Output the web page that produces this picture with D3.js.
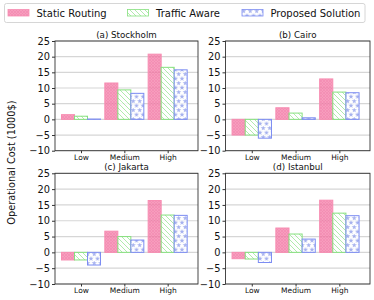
<!DOCTYPE html>
<html><head><meta charset="utf-8">
<script src="https://cdn.jsdelivr.net/npm/d3@7"></script>
<style>body{margin:0;background:#fff}svg{display:block}text{font-family:"DejaVu Sans",sans-serif}</style>
</head><body><div id="chart"></div>
<script>
const titles = ["(a) Stockholm", "(b) Cairo", "(c) Jakarta", "(d) Istanbul"];
const categories = ["Low", "Medium", "High"];
const seriesNames = ["Static Routing", "Traffic Aware", "Proposed Solution"];
const staticRouting = [[1.5, 11.6, 20.8], [-5.0, 3.7, 12.9], [-2.4, 6.7, 16.4], [-2.0, 7.7, 16.5]];
const trafficAware  = [[1.0, 9.4, 16.6], [-5.0, 2.0, 8.7], [-2.4, 5.0, 11.8], [-2.1, 5.8, 12.4]];
const proposed      = [[0.1, 8.3, 15.8], [-6.0, 0.5, 8.5], [-4.0, 3.9, 11.7], [-3.2, 4.2, 11.6]];
const yTicks = [-10, -5, 0, 5, 10, 15, 20, 25];
const yLabel = "Operational Cost (1000$)";

const W = 374, H = 300;
const svg = d3.select("#chart").append("svg").attr("width", W).attr("height", H);
const defs = svg.append("defs");

// patterns
const p0 = defs.append("pattern").attr("id", "pat0").attr("patternUnits", "userSpaceOnUse")
  .attr("width", 3).attr("height", 3);
p0.append("rect").attr("width", 3).attr("height", 3).attr("fill", "#f584ad");
p0.append("path").attr("d", "M0,0L3,3M3,0L0,3").attr("stroke", "#ef6d9d").attr("stroke-width", 0.7);

const p1 = defs.append("pattern").attr("id", "pat1").attr("patternUnits", "userSpaceOnUse")
  .attr("width", 5).attr("height", 5);
p1.append("rect").attr("width", 5).attr("height", 5).attr("fill", "#fff");
p1.append("path").attr("d", "M-1,-1L6,6M-1,4L1,6M4,-1L6,1").attr("stroke", "#93e38c").attr("stroke-width", 0.9);

const p2 = defs.append("pattern").attr("id", "pat2").attr("patternUnits", "userSpaceOnUse")
  .attr("width", 6.5).attr("height", 9);
p2.append("rect").attr("width", 6.5).attr("height", 9).attr("fill", "#fff");
const star = d3.symbol().type(d3.symbolStar).size(8.5)();
[[3.2, 2.2], [0, 6.7], [6.5, 6.7]].forEach(([x, y]) =>
  p2.append("path").attr("d", star).attr("transform", `translate(${x},${y})`).attr("fill", "#8f9dea"));

const fills = ["url(#pat0)", "url(#pat1)", "url(#pat2)"];
const edges = ["#f78db2", "#86e07e", "#7c8cf2"];
const allData = [staticRouting, trafficAware, proposed];

const cols = [[55, 198], [225.5, 370]];
const rows = [[41, 150.7], [173.3, 284]];

titles.forEach((t, i) => {
  const [x0, x1] = cols[i % 2], [y0, y1] = rows[Math.floor(i / 2)];
  const g = svg.append("g");
  const x = d3.scaleLinear().domain([-0.6, 2.7]).range([x0, x1]);
  const y = d3.scaleLinear().domain([-10, 25]).range([y1, y0]);
  const bw = 0.3;
  // grid
  g.selectAll(".grid").data(yTicks).enter().append("line")
    .attr("x1", x0).attr("x2", x1).attr("y1", d => y(d)).attr("y2", d => y(d))
    .attr("stroke", "#d6d6d6").attr("stroke-width", 1.2);
  // bars
  allData.forEach((ser, s) => {
    g.selectAll(".b" + s).data(ser[i]).enter().append("rect")
      .attr("x", (d, c) => x(c + (s - 1) * bw - bw / 2))
      .attr("width", x(bw) - x(0))
      .attr("y", d => y(Math.max(0, d)))
      .attr("height", d => Math.abs(y(d) - y(0)))
      .attr("fill", fills[s]).attr("fill-opacity", 0.8)
      .attr("stroke", edges[s]).attr("stroke-width", 1);
  });
  // frame
  g.append("rect").attr("x", x0).attr("y", y0).attr("width", x1 - x0).attr("height", y1 - y0)
    .attr("fill", "none").attr("stroke", "#333").attr("stroke-width", 0.9);
  // y axis
  const ya = g.append("g").attr("transform", `translate(${x0},0)`)
    .call(d3.axisLeft(y).tickValues(yTicks).tickSize(3).tickPadding(2).tickFormat(d => d < 0 ? "\u2212" + Math.abs(d) : d));
  ya.select(".domain").remove();
  ya.selectAll("line").attr("stroke", "#333");
  ya.selectAll("text").attr("font-size", 9.8).attr("fill", "#111").attr("font-family", "DejaVu Sans");
  // x axis
  const xa = g.append("g").attr("transform", `translate(0,${y1})`)
    .call(d3.axisBottom(x).tickValues([0, 1, 2]).tickSize(2.5).tickPadding(1.5).tickFormat((d, k) => categories[k]));
  xa.select(".domain").remove();
  xa.selectAll("line").attr("stroke", "#333");
  xa.selectAll("text").attr("font-size", 7.5).attr("fill", "#111").attr("font-family", "DejaVu Sans");
  // title
  g.append("text").attr("x", (x0 + x1) / 2).attr("y", y0 - 3).attr("text-anchor", "middle")
    .attr("font-size", 8.7).attr("fill", "#111").text(t);
});

// y label
svg.append("text").attr("transform", `translate(15,162.5) rotate(-90)`).attr("text-anchor", "middle")
  .attr("font-size", 9.8).attr("fill", "#111").text(yLabel);

// legend
const lg = svg.append("g");
lg.append("rect").attr("x", 4.5).attr("y", 3.5).attr("width", 360.5).attr("height", 19).attr("rx", 2)
  .attr("fill", "#fff").attr("stroke", "#ccc").attr("stroke-width", 0.8);
const lx = [8, 127.5, 242];
seriesNames.forEach((n, s) => {
  lg.append("rect").attr("x", lx[s]).attr("y", 9.5).attr("width", 21).attr("height", 6.5)
    .attr("fill", fills[s]).attr("fill-opacity", 0.8).attr("stroke", edges[s]).attr("stroke-width", 0.8);
  lg.append("text").attr("x", lx[s] + 28.5).attr("y", 16.5).attr("font-size", 10).attr("fill", "#111").text(n);
});
</script></body></html>
